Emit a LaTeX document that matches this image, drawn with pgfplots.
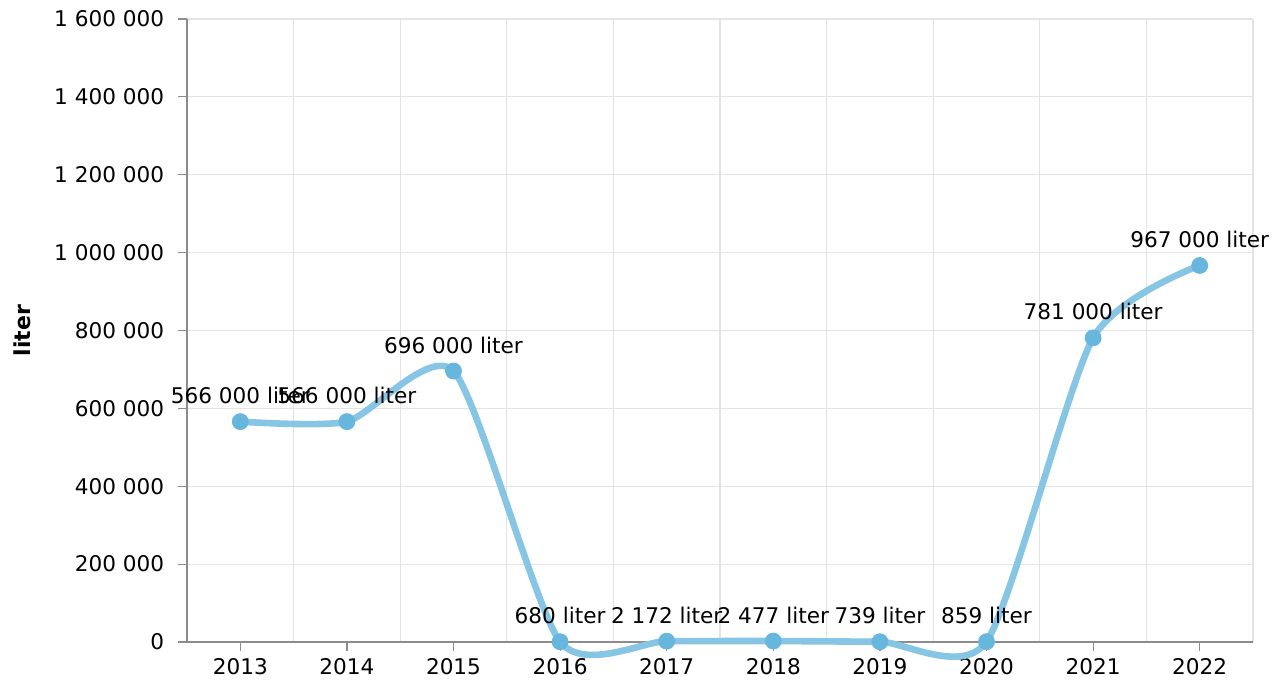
\documentclass[border=0pt]{standalone}
\usepackage{pgfplots}
\usepackage{pgfplotstable}
\pgfplotsset{compat=1.18}
\usepackage{fontspec}
\setmainfont{DejaVu Sans}
\definecolor{linec}{HTML}{86C5E3}
\definecolor{markc}{HTML}{66B6DD}
\definecolor{gridc}{HTML}{E3E3E3}
\definecolor{axisc}{HTML}{8C8C8C}
\pgfplotstableread[col sep=comma]{
year,value,label
2013,566000,566 000 liter
2014,566000,566 000 liter
2015,696000,696 000 liter
2016,680,680 liter
2017,2172,2 172 liter
2018,2477,2 477 liter
2019,739,739 liter
2020,859,859 liter
2021,781000,781 000 liter
2022,967000,967 000 liter
}\data
\begin{document}
\begin{tikzpicture}
\begin{axis}[
  name=ax,
  scale only axis, width=533pt, height=311.5pt,
  xmin=2012.5, xmax=2022.5, ymin=0, ymax=1600000,
  xtick={2013,2014,2015,2016,2017,2018,2019,2020,2021,2022},
  xticklabels={2013,2014,2015,2016,2017,2018,2019,2020,2021,2022},
  minor xtick={2012.5,2013.5,2014.5,2015.5,2016.5,2017.5,2018.5,2019.5,2020.5,2021.5,2022.5},
  ytick={0,200000,400000,600000,800000,1000000,1200000,1400000,1600000},
  yticklabels={0,200 000,400 000,600 000,800 000,1 000 000,1 200 000,1 400 000,1 600 000},
  scaled y ticks=false,
  xminorgrids, ymajorgrids,
  minor grid style={draw=gridc, line width=0.6pt},
  major grid style={draw=gridc, line width=0.6pt},
  minor tick length=0pt,
  major tick length=4.5pt,
  tick align=outside,
  tick style={draw=axisc, line width=0.6pt},
  axis x line*=bottom, axis y line*=left,
  axis line style={-, draw=axisc, line width=0.7pt},
  tick label style={font=\fontsize{10.8}{13}\selectfont, text=black},
  yticklabel style={xshift=-3.4pt},
  ylabel={liter},
  ylabel style={at={([xshift=-82.5pt]rel axis cs:0,0.5)}, anchor=center, font=\fontsize{11}{13}\selectfont\bfseries},
  clip=false,
  /pgf/number format/assume math mode=true,
]
\addplot[linec, line width=3.3pt, smooth, tension=0.4, no marks] table[x=year, y=value] {\data};
\addplot[only marks, mark=*, mark size=4pt, mark options={fill=markc, draw=markc},
  nodes near coords, point meta=explicit symbolic,
  every node near coord/.append style={anchor=base, yshift=9pt, font=\fontsize{10.8}{13}\selectfont, text=black}]
  table[x=year, y=value, meta=label] {\data};
\end{axis}
\pgfresetboundingbox
\path ([shift={(-93.5pt,-25pt)}]ax.south west) rectangle ([shift={(17.5pt,9.5pt)}]ax.north east);
\end{tikzpicture}
\end{document}
